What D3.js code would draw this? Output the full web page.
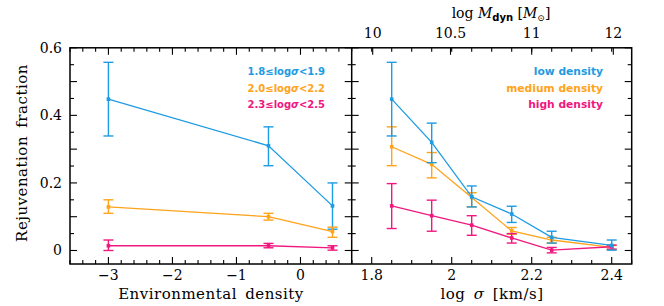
<!DOCTYPE html>
<html>
<head>
<meta charset="utf-8">
<script src="https://cdn.jsdelivr.net/npm/d3@7"></script>
<style>
body { margin: 0; background: #fff; }
text { font-family: "DejaVu Serif", serif; }
.ttl { font-size: 15px; letter-spacing: 0.5px; word-spacing: 3px; }
.leg { font-family: "DejaVu Sans", sans-serif; font-weight: bold; }
</style>
</head>
<body>
<script>
// left panel: environmental density
var envX = [-3, -0.5, 0.5];
var envBlue = [0.448, 0.310, 0.132];
var envBlueHi = [0.557, 0.366, 0.200];
var envBlueLo = [0.339, 0.251, 0.063];
var envOrange = [0.129, 0.100, 0.056];
var envOrangeHi = [0.150, 0.110, 0.069];
var envOrangeLo = [0.110, 0.090, 0.039];
var envPink = [0.014, 0.014, 0.008];
var envPinkHi = [0.031, 0.021, 0.014];
var envPinkLo = [0.000, 0.008, 0.001];

// right panel: log sigma
var sigX = [1.85, 1.95, 2.05, 2.15, 2.25, 2.4];
var lowD = [0.448, 0.320, 0.159, 0.108, 0.039, 0.015];
var lowDHi = [0.557, 0.377, 0.191, 0.131, 0.057, 0.031];
var lowDLo = [0.339, 0.260, 0.129, 0.083, 0.022, 0.001];
var medD = [0.307, 0.255, 0.157, 0.058, 0.031, 0.009];
var medDHi = [0.366, 0.290, 0.171, 0.068, 0.039, 0.015];
var medDLo = [0.251, 0.215, 0.129, 0.048, 0.022, 0.003];
var highD = [0.132, 0.103, 0.075, 0.037, 0.001, 0.011];
var highDHi = [0.198, 0.149, 0.103, 0.050, 0.009, 0.016];
var highDLo = [0.065, 0.057, 0.045, 0.022, -0.007, 0.004];

var yTickLabels = [0, 0.2, 0.4, 0.6];
var envTickLabels = [-3, -2, -1, 0];
var sigTickLabels = [1.8, 2, 2.2, 2.4];
var mdynLabels = ["10", "10.5", "11", "12"];
var mdynAtSigma = [1.8025, 1.997, 2.2, 2.404];

var blue = "#1d9be3", orange = "#ffa31a", pink = "#f0187f";

var svg = d3.select("body").append("svg").attr("width", 664).attr("height", 306);

var yTop = 47.8, yBot = 264, xa = 70, xm = 351.7, xb = 631.7;
var y = d3.scaleLinear().domain([-0.04, 0.6]).range([yBot, yTop]);
var xL = d3.scaleLinear().domain([-3.6, 0.8]).range([xa, xm]);
var xR = d3.scaleLinear().domain([1.75, 2.45]).range([xm, xb]);

function fmt(v) { return v < 0 ? "\u2212" + Math.abs(v) : String(v); }

function range(a, b, s) {
    var out = [];
    for (var v = a; v <= b + 1e-9; v += s) out.push(Math.round(v * 1000) / 1000);
    return out;
}

var ticks = svg.append("g").attr("stroke", "#000").attr("stroke-width", 1.1);

// y ticks on all panel sides
range(0, 0.6, 0.05).forEach(function (v) {
    var major = Math.abs(v * 10 - Math.round(v * 10)) < 1e-6;
    var len = major ? 7 : 4;
    [xa, xm, xb].forEach(function (px) {
        if (px !== xb) ticks.append("line").attr("x1", px).attr("x2", px + len).attr("y1", y(v)).attr("y2", y(v));
        if (px !== xa) ticks.append("line").attr("x1", px).attr("x2", px - len).attr("y1", y(v)).attr("y2", y(v));
    });
});

// left panel x ticks, top and bottom
range(-3.6, 0.8, 0.2).forEach(function (v) {
    var major = Math.abs(v - Math.round(v)) < 1e-6;
    var len = major ? 7 : 4;
    ticks.append("line").attr("x1", xL(v)).attr("x2", xL(v)).attr("y1", yBot).attr("y2", yBot - len);
    ticks.append("line").attr("x1", xL(v)).attr("x2", xL(v)).attr("y1", yTop).attr("y2", yTop + len);
});

// right panel bottom ticks
range(1.75, 2.45, 0.05).forEach(function (v) {
    var major = Math.abs(v * 5 - Math.round(v * 5)) < 1e-6;
    var len = major ? 7 : 4;
    ticks.append("line").attr("x1", xR(v)).attr("x2", xR(v)).attr("y1", yBot).attr("y2", yBot - len);
});
// right panel top ticks
range(1.8, 2.4, 0.05).forEach(function (v) {
    ticks.append("line").attr("x1", xR(v)).attr("x2", xR(v)).attr("y1", yTop).attr("y2", yTop + 4);
});
mdynAtSigma.forEach(function (v) {
    ticks.append("line").attr("x1", xR(v)).attr("x2", xR(v)).attr("y1", yTop).attr("y2", yTop + 7);
});

// frames
svg.append("rect").attr("x", xa).attr("y", yTop).attr("width", xb - xa).attr("height", yBot - yTop)
    .attr("fill", "none").attr("stroke", "#000").attr("stroke-width", 1.5);
svg.append("line").attr("x1", xm).attr("x2", xm).attr("y1", yTop).attr("y2", yBot)
    .attr("stroke", "#000").attr("stroke-width", 1.5);

// tick labels
yTickLabels.forEach(function (v) {
    svg.append("text").attr("x", 62).attr("y", y(v) + 5).attr("text-anchor", "end")
        .attr("font-size", 14).text(v);
});
envTickLabels.forEach(function (v) {
    svg.append("text").attr("x", xL(v)).attr("y", 280).attr("text-anchor", "middle")
        .attr("font-size", 14).text(fmt(v));
});
sigTickLabels.forEach(function (v) {
    svg.append("text").attr("x", xR(v)).attr("y", 280).attr("text-anchor", "middle")
        .attr("font-size", 14).text(v);
});
mdynLabels.forEach(function (t, i) {
    svg.append("text").attr("x", xR(mdynAtSigma[i])).attr("y", 38).attr("text-anchor", "middle")
        .attr("font-size", 14).text(t);
});

// axis titles
svg.append("text").attr("class", "ttl").attr("x", 211).attr("y", 299).attr("text-anchor", "middle")
    .text("Environmental density");
var st = svg.append("text").attr("class", "ttl").attr("x", 492).attr("y", 299).attr("text-anchor", "middle");
st.append("tspan").text("log ");
st.append("tspan").attr("font-style", "italic").text("\u03c3");
st.append("tspan").text(" [km/s]");
var mt = svg.append("text").attr("x", 501).attr("y", 18).attr("text-anchor", "middle").attr("font-size", 14);
mt.append("tspan").text("log ");
mt.append("tspan").attr("font-style", "italic").text("M");
mt.append("tspan").attr("font-size", 10).attr("font-weight", "bold").attr("font-family", "DejaVu Sans").attr("dy", 3).text("dyn");
mt.append("tspan").attr("dy", -3).text(" [");
mt.append("tspan").attr("font-style", "italic").text("M");
mt.append("tspan").attr("font-size", 9).attr("dy", 3).text("\u2299");
mt.append("tspan").attr("dy", -3).text("]");
svg.append("text").attr("class", "ttl").attr("transform", "translate(27,153) rotate(-90)").attr("text-anchor", "middle")
    .text("Rejuvenation fraction");

// series
function drawSeries(xs, scale, vals, hi, lo, color) {
    var g = svg.append("g");
    var pts = xs.map(function (d, i) { return [scale(d), y(vals[i])]; });
    g.append("path").attr("d", d3.line()(pts)).attr("fill", "none").attr("stroke", color).attr("stroke-width", 1.3);
    xs.forEach(function (d, i) {
        var cx = scale(d);
        g.append("line").attr("x1", cx).attr("x2", cx).attr("y1", y(hi[i])).attr("y2", y(lo[i]))
            .attr("stroke", color).attr("stroke-width", 1.4);
        [hi[i], lo[i]].forEach(function (e) {
            g.append("line").attr("x1", cx - 5).attr("x2", cx + 5).attr("y1", y(e)).attr("y2", y(e))
                .attr("stroke", color).attr("stroke-width", 1.4);
        });
        g.append("rect").attr("x", cx - 1.8).attr("y", y(vals[i]) - 1.8).attr("width", 3.6).attr("height", 3.6)
            .attr("fill", color);
    });
}

drawSeries(envX, xL, envBlue, envBlueHi, envBlueLo, blue);
drawSeries(envX, xL, envOrange, envOrangeHi, envOrangeLo, orange);
drawSeries(envX, xL, envPink, envPinkHi, envPinkLo, pink);
drawSeries(sigX, xR, medD, medDHi, medDLo, orange);
drawSeries(sigX, xR, highD, highDHi, highDLo, pink);
drawSeries(sigX, xR, lowD, lowDHi, lowDLo, blue);

// legends
var legL = [["1.8", "1.9", blue], ["2.0", "2.2", orange], ["2.3", "2.5", pink]];
legL.forEach(function (d, i) {
    var t = svg.append("text").attr("class", "leg").attr("font-size", 10).attr("x", 325).attr("y", 75 + i * 16.5)
        .attr("text-anchor", "end").attr("fill", d[2]);
    t.append("tspan").text(d[0] + "\u2264log");
    t.append("tspan").attr("font-style", "italic").text("\u03c3");
    t.append("tspan").text("<" + d[1]);
});
var legR = [["low density", blue], ["medium density", orange], ["high density", pink]];
legR.forEach(function (d, i) {
    svg.append("text").attr("class", "leg").attr("font-size", 10.7).attr("x", 603).attr("y", 75 + i * 16.5)
        .attr("text-anchor", "end").attr("fill", d[1]).text(d[0]);
});
</script>
</body>
</html>
